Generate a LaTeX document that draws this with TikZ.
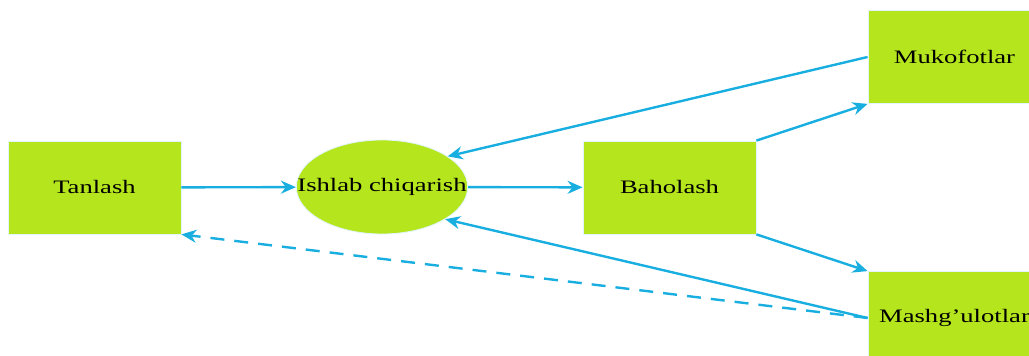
\documentclass[tikz,border=0pt]{standalone}
\usepackage{fontspec}
\setmainfont[FakeStretch=1.4]{Liberation Serif}
\usetikzlibrary{arrows.meta,shapes.geometric}
\definecolor{boxgreen}{HTML}{B5E61D}
\definecolor{linkblue}{HTML}{19AEE0}

\begin{document}
\begin{tikzpicture}[x=0.5pt,y=-0.5pt]
\tikzset{
  stagebox/.style={rectangle,fill=boxgreen,draw=cyan!12,line width=0.4pt,minimum width=86.5pt,minimum height=46.5pt,inner sep=0pt,font=\fontsize{9.5}{11}\selectfont},
  stageoval/.style={stagebox,ellipse,inner xsep=-12pt,minimum width=85pt,minimum height=47pt},
  link/.style={draw=linkblue,line width=1.2pt,-{Stealth[length=7.5pt,width=6.5pt]}},
  dashedlink/.style={link,dash pattern=on 7pt off 5pt}
}
\useasboundingbox (0,0) rectangle (1029,356);
\clip (0,0) rectangle (1029,356);
\node[stagebox] (n_tan) at (94.5,187.5) {Tanlash};
\node[stageoval] (n_ish) at (382,187) {Ishlab chiqarish};
\node[stagebox] (n_bah) at (669.5,187.5) {Baholash};
\node[stagebox] (n_muk) at (954.5,57) {Mukofotlar};
\node[stagebox] (n_mas) at (954.5,318) {Mashg'ulotlar};
\draw[link] (n_tan) -- (n_ish);
\draw[link] (n_ish) -- (n_bah);
\draw[link] (n_bah.north east) -- (n_muk.south west);
\draw[link] (n_bah.south east) -- (n_mas.north west);
\draw[link] (n_muk.west) -- (n_ish.25);
\draw[link] (n_mas.west) -- (n_ish.-27);
\draw[dashedlink] (n_mas.west) -- (n_tan.south east);
\end{tikzpicture}
\end{document}
